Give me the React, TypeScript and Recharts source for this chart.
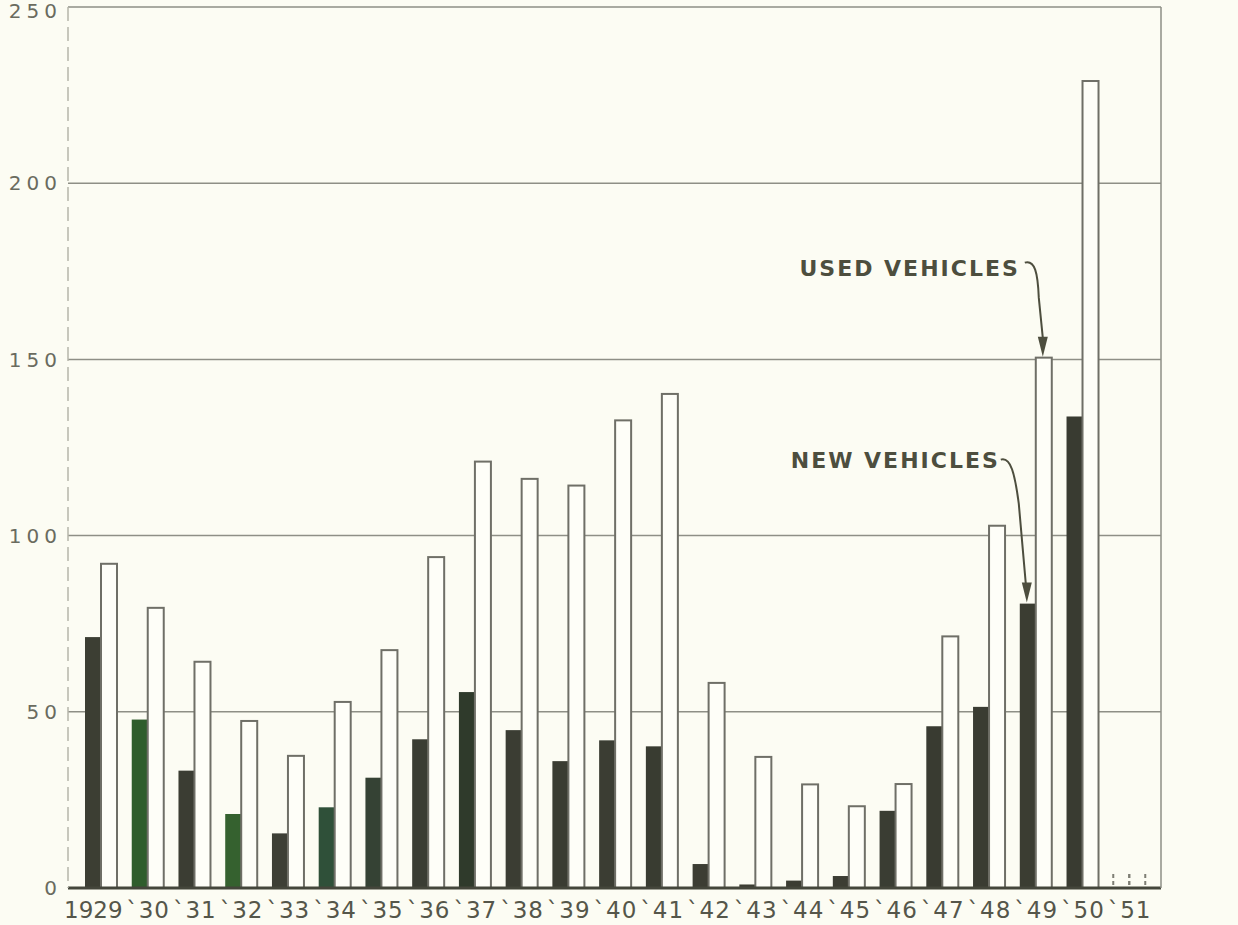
import { BarChart, Bar, XAxis, YAxis, CartesianGrid, Cell } from "recharts";

// vehicle sales by year
const years = ["1929", "`30", "`31", "`32", "`33", "`34", "`35", "`36", "`37", "`38", "`39", "`40", "`41", "`42", "`43", "`44", "`45", "`46", "`47", "`48", "`49", "`50", "`51"];
const newVehicles = [71.2, 47.8, 33.3, 21.0, 15.5, 22.9, 31.3, 42.2, 55.6, 44.8, 36.0, 41.9, 40.2, 6.8, 1.0, 2.1, 3.4, 21.9, 45.9, 51.4, 80.7, 133.8, 4];
const usedVehicles = [92.0, 79.5, 64.2, 47.4, 37.5, 52.8, 67.5, 93.9, 121.0, 116.1, 114.2, 132.7, 140.2, 58.2, 37.2, 29.4, 23.2, 29.5, 71.4, 102.8, 150.5, 229.0, 4];
const incompleteYears = ["`51"];
const yTicks = [0, 50, 100, 150, 200, 250];
const calloutYear = "`49";

// the scan's dark bars drift between olive-grey and green
const newBarColors = ["#3c3e33", "#2f5d2c", "#3b3d33", "#35612f", "#3d3f35", "#2f5039", "#354234", "#3a3d33", "#2f3a2b", "#3b3d33", "#3a3c32", "#3b3d33", "#393c31", "#3c3d33", "#3c3d33", "#3c3d33", "#3c3d33", "#3a3d33", "#393b31", "#3a3c32", "#3b3d32", "#393b31", "#3c3d33"];

const rows = years.map((year, i) => ({
  year,
  newV: newVehicles[i],
  usedV: usedVehicles[i],
  pending: incompleteYears.includes(year),
}));

const ink = "#4d4e3e";
const grid = "#8e8f86";
const labelFont = "'DejaVu Sans', sans-serif";

function DashedSides({ x, y, width, height }: any) {
  return (
    <g>
      <line x1={x} y1={y} x2={x} y2={y + height} stroke="#7e7e74" strokeWidth={2} strokeDasharray="4 3" />
      <line x1={x + width} y1={y} x2={x + width} y2={y + height} stroke="#7e7e74" strokeWidth={2} strokeDasharray="4 3" />
    </g>
  );
}

function Callout({ cx, top, text, dxText, dyText, path }: any) {
  return (
    <g>
      <text x={cx + dxText} y={top + dyText} textAnchor="end" fontFamily={labelFont} fontWeight="bold" fontSize={22} letterSpacing={2} fill={ink}>
        {text}
      </text>
      <path d={path} fill="none" stroke={ink} strokeWidth={2} />
      <polygon points={`${cx - 1},${top - 1} ${cx - 6},${top - 21} ${cx + 4},${top - 21}`} fill={ink} />
    </g>
  );
}

function NewShape(props: any) {
  const { x, y, width, height, payload, fill } = props;
  if (payload.pending) return <DashedSides x={x} y={y} width={width} height={height} />;
  const cx = x + width / 2;
  return (
    <g>
      <rect x={x} y={y} width={width} height={height} fill={fill} />
      {payload.year === calloutYear && (
        <Callout
          cx={cx}
          top={y}
          text="NEW VEHICLES"
          dxText={-28}
          dyText={-136}
          path={`M${cx - 27},${y - 144} C${cx - 17},${y - 147} ${cx - 13},${y - 130} ${cx - 9},${y - 100} L${cx - 2},${y - 20}`}
        />
      )}
    </g>
  );
}

function UsedShape(props: any) {
  const { x, y, width, height, payload } = props;
  if (payload.pending) return <DashedSides x={x} y={y} width={width} height={height} />;
  const cx = x + width / 2;
  return (
    <g>
      <rect x={x} y={y} width={width} height={height} fill="#fefef8" stroke="#6f6f67" strokeWidth={2} />
      {payload.year === calloutYear && (
        <Callout
          cx={cx}
          top={y}
          text="USED VEHICLES"
          dxText={-24}
          dyText={-82}
          path={`M${cx - 19},${y - 95} C${cx - 9},${y - 98} ${cx - 6},${y - 85} ${cx - 5},${y - 60} L${cx - 1},${y - 20}`}
        />
      )}
    </g>
  );
}

function YearTick({ x, y, payload, index }: any) {
  const shift = index === 0 ? -8 : 0;
  return (
    <text x={x + shift} y={y} dy="0.71em" textAnchor="middle" fontFamily={labelFont} fontSize={23} letterSpacing={index === 0 ? 0 : 1} fill="#55564a">
      {payload.value}
    </text>
  );
}

// top label sits a touch lower so it isn't clipped by the page edge
function ValueTick({ x, y, payload, textAnchor }: any) {
  const nudge = payload.value === 250 ? 4 : 0;
  return (
    <text x={x} y={y + nudge} dy="0.355em" textAnchor={textAnchor} fontFamily={labelFont} fontSize={20} letterSpacing={5} fill="#6a6b5f">
      {payload.value}
    </text>
  );
}

export default function App() {
  return (
    <div style={{ position: "fixed", left: 0, top: 0, width: 1238, height: 925, background: "#fcfcf3" }}>
      <BarChart width={1238} height={925} data={rows} margin={{ top: 7, right: 0, bottom: 0, left: 0 }} barSize={16} barGap={0}>
        <CartesianGrid horizontal vertical={false} stroke={grid} strokeWidth={1.5} />
        <XAxis
          dataKey="year"
          height={37}
          interval={0}
          padding={{ left: 10, right: 8 }}
          tickLine={false}
          tickSize={0}
          tickMargin={14}
          tick={<YearTick />}
          axisLine={{ stroke: "#44463b", strokeWidth: 3 }}
        />
        <YAxis
          domain={[0, 250]}
          ticks={yTicks}
          interval={0}
          width={68}
          tickLine={false}
          tickSize={0}
          tickMargin={6}
          tick={<ValueTick />}
          axisLine={{ stroke: "#b5b5ab", strokeWidth: 1.5, strokeDasharray: "14 6" }}
        />
        <YAxis
          yAxisId="right"
          orientation="right"
          domain={[0, 250]}
          ticks={yTicks}
          interval={0}
          width={77}
          tickLine={false}
          tickSize={0}
          tickMargin={14}
          tick={<ValueTick />}
          axisLine={{ stroke: grid, strokeWidth: 1.5 }}
        />
        <Bar dataKey="newV" isAnimationActive={false} shape={<NewShape />}>
          {rows.map((r, i) => (
            <Cell key={r.year} fill={newBarColors[i]} />
          ))}
        </Bar>
        <Bar dataKey="usedV" isAnimationActive={false} shape={<UsedShape />} />
      </BarChart>
    </div>
  );
}
